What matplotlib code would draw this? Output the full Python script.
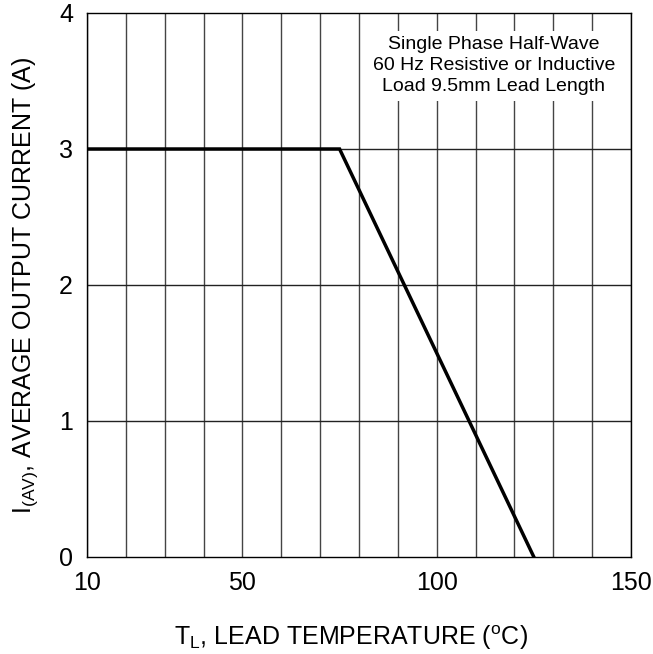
import numpy as np
import matplotlib.pyplot as plt

plt.rcParams['font.family'] = ['Liberation Sans', 'DejaVu Sans']
plt.rcParams['mathtext.default'] = 'regular'

# derating curve: lead temperature (C) vs average output current (A)
temp = [10, 75, 125]
current = [3.0, 3.0, 0.0]

x_ticks = [10, 50, 100, 150]
x_grid = list(range(10, 151, 10))
y_ticks = [0, 1, 2, 3, 4]

note = "Single Phase Half-Wave\n60 Hz Resistive or Inductive\nLoad 9.5mm Lead Length"

fig = plt.figure(figsize=(6.53, 6.54), dpi=100)
ax = fig.add_axes([87 / 653, 1 - 557 / 654, 544 / 653, 544 / 654])

ax.set_xlim(10, 150)
ax.set_ylim(0, 4)
for gx in x_grid:
    ax.axvline(gx, color='#444444', lw=1.0, zorder=1)
for gy in y_ticks[1:-1]:
    ax.axhline(gy, color='#222222', lw=1.0, zorder=1)

ax.plot(temp, current, color='black', lw=2.5, zorder=4, solid_joinstyle='miter')

ax.set_xticks(x_ticks)
ax.set_yticks(y_ticks)
ax.tick_params(length=0, labelsize=18, pad=10)
for s in ax.spines.values():
    s.set_linewidth(1.0)
    s.set_zorder(5)

ax.text(0.748, 0.903, note, transform=ax.transAxes, ha='center', va='center',
        fontsize=14, linespacing=1.3, zorder=3,
        bbox=dict(facecolor='white', edgecolor='none', pad=4))

ax.set_xlabel(r'T$_{L}$, LEAD TEMPERATURE ($^{o}$C)', fontsize=18)
ax.xaxis.set_label_coords(0.485, -0.122)
ax.set_ylabel(r'I$_{(AV)}$, AVERAGE OUTPUT CURRENT (A)', fontsize=18, labelpad=14)

fig.savefig('out.png', dpi=100)
